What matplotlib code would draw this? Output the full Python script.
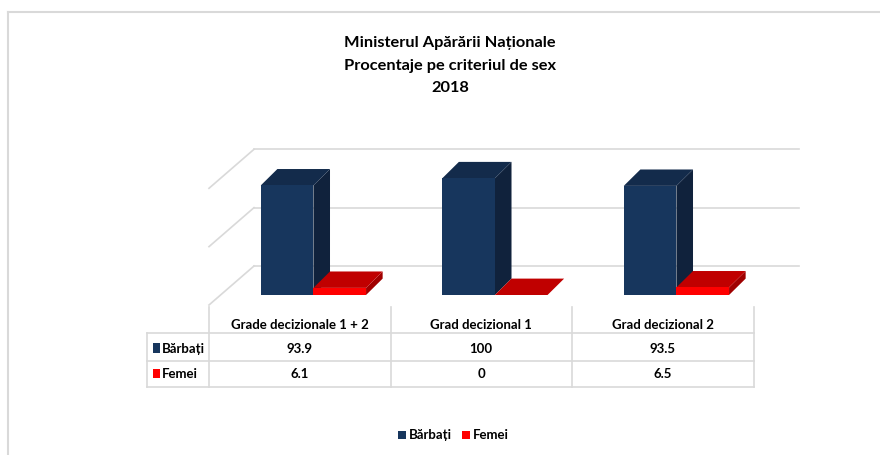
import matplotlib.pyplot as plt
from matplotlib.patches import Polygon, Rectangle

# data
categories = ['Grade decizionale 1 + 2', 'Grad decizional 1', 'Grad decizional 2']
series = ['Bărbați', 'Femei']
barbati = [93.9, 100, 93.5]
femei = [6.1, 0, 6.5]
gridvals = [0, 50, 100]
title_lines = ['Ministerul Apărării Naționale', 'Procentaje pe criteriul de sex', '2018']

# colours: front, top, side
blue = ('#17365d', '#132b4b', '#10223c')
red = ('#ff0000', '#c00000', '#a00000')
grid_c = '#d9d9d9'

plt.rcParams['font.family'] = ['Lato', 'DejaVu Sans']

W, H = 880, 455
fig = plt.figure(figsize=(W / 100, H / 100), dpi=100)

# overlay in pixel coords for frame / table lines
ov = fig.add_axes([0, 0, 1, 1])
ov.set_xlim(0, W)
ov.set_ylim(H, 0)
ov.axis('off')

# main axes = front plane of the 3D box
x0, x1 = 209, 753.5
yb, yt = 305, 188.3
ax = fig.add_axes([x0 / W, 1 - yb / H, (x1 - x0) / W, (yb - yt) / H])
ax.set_xlim(0, 3)
ax.set_ylim(0, 100)
ax.axis('off')

pxx = (x1 - x0) / 3       # px per category
pxv = (yb - yt) / 100     # px per value unit

# wall depth (px) and bar depth/offset (px)
wall_dx, wall_dy = 45, 39
bar_off_dx, bar_off_dy = 11.3, 10
bar_dx, bar_dy = 16.6, 16.4
bar_w = 0.29
bar_left = 0.223


def shift(x, v, dx, dy):
    return x + dx / pxx, v + dy / pxv


# gridlines: back wall + left wall diagonals
for v in gridvals:
    bx0, bv = shift(0, v, wall_dx, wall_dy)
    bx1, _ = shift(3, v, wall_dx, wall_dy)
    ax.plot([bx0, bx1], [bv, bv], color=grid_c, lw=1.2, clip_on=False, zorder=1)
    ax.plot([0, bx0], [v, bv], color=grid_c, lw=1.2, clip_on=False, zorder=1)


def bar3d(xl, h, cols):
    fx0, fv0 = shift(xl, 0, bar_off_dx, bar_off_dy)
    fx1 = fx0 + bar_w
    fv1 = fv0 + h
    bx0, bv0 = shift(fx0, fv0, bar_dx, bar_dy)
    bx1 = bx0 + bar_w
    bv1 = bv0 + h
    side = [(fx1, fv0), (bx1, bv0), (bx1, bv1), (fx1, fv1)]
    top = [(fx0, fv1), (fx1, fv1), (bx1, bv1), (bx0, bv1)]
    ax.add_patch(Polygon(side, closed=True, fc=cols[2], ec='none', clip_on=False, zorder=3))
    ax.add_patch(Polygon(top, closed=True, fc=cols[1], ec='none', clip_on=False, zorder=3))
    ax.add_patch(Rectangle((fx0, fv0), bar_w, h, fc=cols[0], ec='none', clip_on=False, zorder=3))


for i in range(len(categories)):
    bar3d(i + bar_left, barbati[i], blue)
    bar3d(i + bar_left + bar_w, femei[i], red)

# chart-area frame (cut off right/bottom)
ov.plot([8.3, W + 5], [11.6, 11.6], color=grid_c, lw=1.5)
ov.plot([8.3, 8.3], [11.6, H + 5], color=grid_c, lw=1.5)

# data table
tl = 146.7
rows_y = [306.7, 333.3, 360.7, 387.3]
col_x = [x0 + i * pxx for i in range(4)]
for y in rows_y[1:]:
    ov.plot([tl, x1], [y, y], color=grid_c, lw=1.2)
ov.plot([tl, tl], [rows_y[1], rows_y[3]], color=grid_c, lw=1.2)
for cx in col_x:
    ov.plot([cx, cx], [rows_y[0], rows_y[3]], color=grid_c, lw=1.2)

fs = 9.5
for i, cat in enumerate(categories):
    cx = col_x[i] + pxx / 2
    ov.text(cx, 329, cat, ha='center', va='baseline', fontsize=fs, fontweight='bold')
    ov.text(cx, 352.7, f'{barbati[i]:g}', ha='center', va='baseline', fontsize=fs, fontweight='bold')
    ov.text(cx, 378.3, f'{femei[i]:g}', ha='center', va='baseline', fontsize=fs, fontweight='bold')

for name, col, yy in zip(series, [blue[0], red[0]], [352.7, 378.3]):
    ov.add_patch(Rectangle((152.7, yy - 9.3), 7.5, 9.3, fc=col, ec='none'))
    ov.text(162.3, yy, name, ha='left', va='baseline', fontsize=fs, fontweight='bold')

# legend
for name, col, lx in zip(series, [blue[0], red[0]], [398, 462]):
    ov.add_patch(Rectangle((lx, 431), 7.7, 8, fc=col, ec='none'))
    ov.text(lx + 11, 439, name, ha='left', va='baseline', fontsize=fs, fontweight='bold')

# title
for line, yy in zip(title_lines, [46.7, 70, 92]):
    ov.text(450, yy, line, ha='center', va='baseline', fontsize=11.8, fontweight='bold')

fig.savefig('out.png', dpi=100)
